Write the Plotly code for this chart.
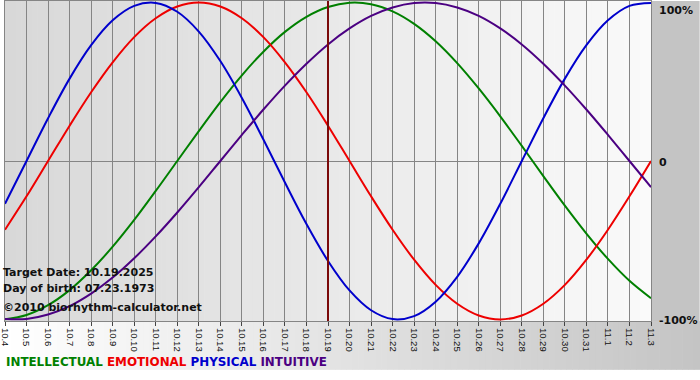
import plotly.graph_objects as go

# ---- data ----
dates = ["10.4", "10.5", "10.6", "10.7", "10.8", "10.9", "10.10", "10.11", "10.12",
         "10.13", "10.14", "10.15", "10.16", "10.17", "10.18", "10.19", "10.20",
         "10.21", "10.22", "10.23", "10.24", "10.25", "10.26", "10.27", "10.28",
         "10.29", "10.30", "10.31", "11.1", "11.2", "11.3"]

intellectual = [-0.999, -0.972, -0.910, -0.815, -0.690, -0.541, -0.372, -0.189, 0.000,
                0.189, 0.372, 0.541, 0.690, 0.815, 0.910, 0.972, 0.999, 0.990, 0.945,
                0.866, 0.756, 0.618, 0.458, 0.282, 0.095, -0.095, -0.282, -0.458,
                -0.618, -0.756, -0.866]
emotional = [-0.434, -0.223, 0.000, 0.223, 0.434, 0.623, 0.782, 0.901, 0.975, 1.000,
             0.975, 0.901, 0.782, 0.623, 0.434, 0.223, 0.000, -0.223, -0.434, -0.623,
             -0.782, -0.901, -0.975, -1.000, -0.975, -0.901, -0.782, -0.623, -0.434,
             -0.223, 0.000]
physical = [-0.270, 0.000, 0.270, 0.520, 0.731, 0.888, 0.979, 0.998, 0.942, 0.817,
            0.631, 0.398, 0.136, -0.136, -0.398, -0.631, -0.817, -0.942, -0.998,
            -0.979, -0.888, -0.731, -0.520, -0.270, 0.000, 0.270, 0.520, 0.731,
            0.888, 0.979, 0.998]
intuitive = [-0.997, -0.997, -0.969, -0.916, -0.837, -0.736, -0.614, -0.476, -0.325,
             -0.165, 0.000, 0.165, 0.325, 0.476, 0.614, 0.736, 0.837, 0.916, 0.969,
             0.997, 0.997, 0.969, 0.916, 0.837, 0.736, 0.614, 0.476, 0.325, 0.165,
             0.000, -0.165]

series_names = ["INTELLECTUAL", "EMOTIONAL", "PHYSICAL", "INTUITIVE"]
series_colors = ["#008000", "#ee0000", "#0000cc", "#4b0082"]
target_date = "10.19"
info_lines = ["Target Date: 10.19.2025", "Day of birth: 07.23.1973",
              "\u00a92010 biorhythm-calculator.net"]
y_labels = {1: "100%", 0: "0", -1: "-100%"}

# ---- figure ----
W, H = 700, 380
ML, MR, MT, MB = 0, 49, 0, 59
PW, PH = W - ML - MR, H - MT - MB

x = list(range(len(dates)))
fig = go.Figure()

for name, vals, col in zip(series_names, [intellectual, emotional, physical, intuitive], series_colors):
    fig.add_trace(go.Scatter(x=x, y=vals, mode="lines", name=name,
                             line=dict(color=col, width=2, shape="spline", smoothing=1.0),
                             hoverinfo="skip"))

shapes = []


def grey(v):
    v = int(round(v))
    return f"rgb({v},{v},{v})"


# plot-area gradient (left darker -> right lighter)
N = 120
for i in range(N):
    t = (i + 0.5) / N
    shapes.append(dict(type="rect", xref="paper", yref="paper", x0=i / N, x1=(i + 1) / N + 0.001,
                       y0=0, y1=1, fillcolor=grey(216 + (250 - 216) * t),
                       line=dict(width=0), layer="below"))
# right margin
xr = W / PW
shapes.append(dict(type="rect", xref="paper", yref="paper", x0=1, x1=xr, y0=0, y1=1,
                   fillcolor=grey(196), line=dict(width=0), layer="below"))
# bottom strip gradient (left white -> right grey)
yb = -49 / PH
for i in range(N):
    t = (i + 0.5) / N
    shapes.append(dict(type="rect", xref="paper", yref="paper", x0=xr * i / N,
                       x1=xr * (i + 1) / N + 0.001, y0=yb, y1=0,
                       fillcolor=grey(255 - (255 - 196) * t),
                       line=dict(width=0), layer="below"))

fig.update_layout(shapes=shapes)

# target date vertical line
fig.add_vline(x=dates.index(target_date), line=dict(color="#7a0a0a", width=2))

annotations = []
ys_px = [272, 288, 307]
for txt, ypx in zip(info_lines, ys_px):
    annotations.append(dict(text=f"<b>{txt}</b>", xref="paper", yref="paper", x=0, xshift=-4,
                            y=(PH - ypx) / PH, xanchor="left", yanchor="middle",
                            showarrow=False,
                            font=dict(family="DejaVu Sans", size=11, color="#111111")))
legend_html = "&nbsp;".join(
    f"<span style='color:{c}'>{n}</span>" for n, c in zip(series_names, series_colors))
annotations.append(dict(text=f"<b>{legend_html}</b>", xref="paper", yref="paper", x=0,
                        xshift=-1,
                        y=(PH - 362) / PH, xanchor="left", yanchor="middle",
                        showarrow=False,
                        font=dict(family="DejaVu Sans", size=11.9, color="#000000")))
for yv, lab in y_labels.items():
    annotations.append(dict(text=f"<b>{lab}</b>", xref="paper", yref="y", x=1, xshift=6,
                            y=yv, xanchor="left",
                            yanchor="top" if yv == 1 else "middle",
                            yshift=1 if yv == 1 else -1,
                            showarrow=False,
                            font=dict(family="DejaVu Sans", size=11, color="#111111")))

fig.update_layout(
    width=W, height=H,
    margin=dict(l=ML, r=MR, t=MT, b=MB, pad=0),
    paper_bgcolor="white",
    plot_bgcolor="rgba(0,0,0,0)",
    showlegend=False,
    annotations=annotations,
    xaxis=dict(range=[0, len(dates) - 1], tickvals=x, ticktext=dates, tickangle=90,
               showgrid=True, gridcolor="#858585", gridwidth=1, zeroline=False,
               showline=True, linecolor="#858585", linewidth=1, mirror=True,
               ticks="outside", ticklen=4, tickcolor="#444444",
               ticklabeloverflow="allow",
               tickfont=dict(family="Liberation Sans", size=9.5, color="#111111"),
               fixedrange=True),
    yaxis=dict(range=[-1.01, 1.01], tickvals=[0], showticklabels=False,
               showgrid=True, gridcolor="#858585", gridwidth=1, zeroline=False,
               showline=True, linecolor="#858585", linewidth=1, mirror=True,
               ticks="", fixedrange=True),
)

fig.write_html("out.html", config={"displayModeBar": False},
               post_script="document.body.style.margin='0';document.body.style.padding='0';")
